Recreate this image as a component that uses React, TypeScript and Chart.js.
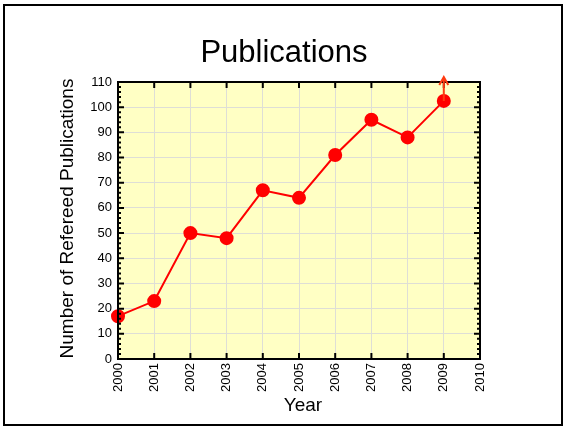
import React, { useEffect, useRef } from "react";
import { Chart, registerables } from "chart.js";

Chart.register(...registerables);

const years = [2000, 2001, 2002, 2003, 2004, 2005, 2006, 2007, 2008, 2009];
const publications = [17, 23, 50, 48, 67, 64, 81, 95, 88, 102.5];
const arrowYear = 2009;
const titleText = "Publications";
const xTitle = "Year";
const yTitle = "Number of Refereed Publications";

const FONT = "'Liberation Sans', Arial, sans-serif";

const decorPlugin = {
  id: "decor",
  beforeDraw(chart: any) {
    const { ctx, chartArea: a } = chart;
    ctx.save();
    ctx.fillStyle = "#ffffff";
    ctx.fillRect(0, 0, chart.width, chart.height);
    ctx.fillStyle = "#ffffc4";
    ctx.fillRect(a.left, a.top, a.right - a.left, a.bottom - a.top);
    ctx.restore();
  },
  afterDraw(chart: any) {
    const { ctx, chartArea: a, scales } = chart;
    const xs = scales.x;
    const ys = scales.y;
    ctx.save();
    // outer frame
    ctx.strokeStyle = "#000";
    ctx.lineWidth = 2;
    ctx.strokeRect(4, 5, 558, 420);
    // plot frame
    ctx.lineWidth = 2;
    ctx.strokeRect(a.left, a.top, a.right - a.left, a.bottom - a.top);
    // inward ticks
    ctx.lineWidth = 2;
    ctx.beginPath();
    for (let v = 2000; v <= 2010; v++) {
      const px = xs.getPixelForValue(v);
      ctx.moveTo(px, a.bottom);
      ctx.lineTo(px, a.bottom - 6);
      ctx.moveTo(px, a.top);
      ctx.lineTo(px, a.top + 6);
    }
    for (let v = 0; v <= 110; v += 2) {
      const py = ys.getPixelForValue(v);
      const len = v % 10 === 0 ? 6 : 3;
      ctx.moveTo(a.left, py);
      ctx.lineTo(a.left + len, py);
      ctx.moveTo(a.right, py);
      ctx.lineTo(a.right - len, py);
    }
    ctx.stroke();
    // arrow at last point
    const idx = years.indexOf(arrowYear);
    const ax = xs.getPixelForValue(arrowYear);
    const ay = ys.getPixelForValue(publications[idx]);
    const tip = a.top - 5;
    ctx.strokeStyle = "#ff3a10";
    ctx.lineWidth = 2;
    ctx.beginPath();
    ctx.moveTo(ax, ay);
    ctx.lineTo(ax, tip);
    ctx.moveTo(ax - 4.5, tip + 8);
    ctx.lineTo(ax, tip);
    ctx.lineTo(ax + 4.5, tip + 8);
    ctx.stroke();
    // titles
    ctx.fillStyle = "#000";
    ctx.textAlign = "center";
    ctx.textBaseline = "middle";
    ctx.font = `31px ${FONT}`;
    ctx.fillText(titleText, 284, 53);
    ctx.font = `19px ${FONT}`;
    ctx.fillText(xTitle, (a.left + a.right) / 2 + 4, 406);
    ctx.translate(68, (a.top + a.bottom) / 2 - 2);
    ctx.rotate(-Math.PI / 2);
    ctx.fillText(yTitle, 0, 0);
    ctx.restore();
  },
};

export default function App() {
  const ref = useRef<HTMLCanvasElement | null>(null);
  useEffect(() => {
    if (!ref.current) return;
    const chart = new Chart(ref.current, {
      type: "line",
      data: {
        datasets: [
          {
            data: years.map((y, i) => ({ x: y, y: publications[i] })),
            borderColor: "#ff0000",
            backgroundColor: "#ff0000",
            borderWidth: 2,
            pointRadius: 6,
            pointBackgroundColor: "#ff0000",
            pointBorderColor: "#ff0000",
            tension: 0,
            clip: false,
          },
        ],
      },
      options: {
        responsive: false,
        animation: false,
        events: [],
        layout: { padding: { left: 0, top: 82, right: 85, bottom: 0 } },
        plugins: {
          legend: { display: false },
          title: { display: false },
          tooltip: { enabled: false },
        },
        scales: {
          x: {
            type: "linear",
            min: 2000,
            max: 2010,
            afterFit: (s: any) => {
              s.height = 70;
            },
            ticks: {
              stepSize: 1,
              minRotation: 90,
              maxRotation: 90,
              padding: 4,
              color: "#000",
              font: { family: FONT, size: 13 },
              callback: (v: any) => String(v),
            },
            grid: { color: "#deded6", lineWidth: 1, drawTicks: false },
            border: { display: false },
          },
          y: {
            min: 0,
            max: 110,
            afterFit: (s: any) => {
              s.width = 118;
            },
            ticks: {
              stepSize: 10,
              padding: 6,
              color: "#000",
              font: { family: FONT, size: 13 },
            },
            grid: { color: "#deded6", lineWidth: 1, drawTicks: false },
            border: { display: false },
          },
        },
      },
      plugins: [decorPlugin],
    });
    return () => chart.destroy();
  }, []);
  return (
    <div style={{ position: "fixed", left: 0, top: 0, width: 565, height: 429 }}>
      <canvas ref={ref} width={565} height={429} style={{ width: 565, height: 429 }} />
    </div>
  );
}
